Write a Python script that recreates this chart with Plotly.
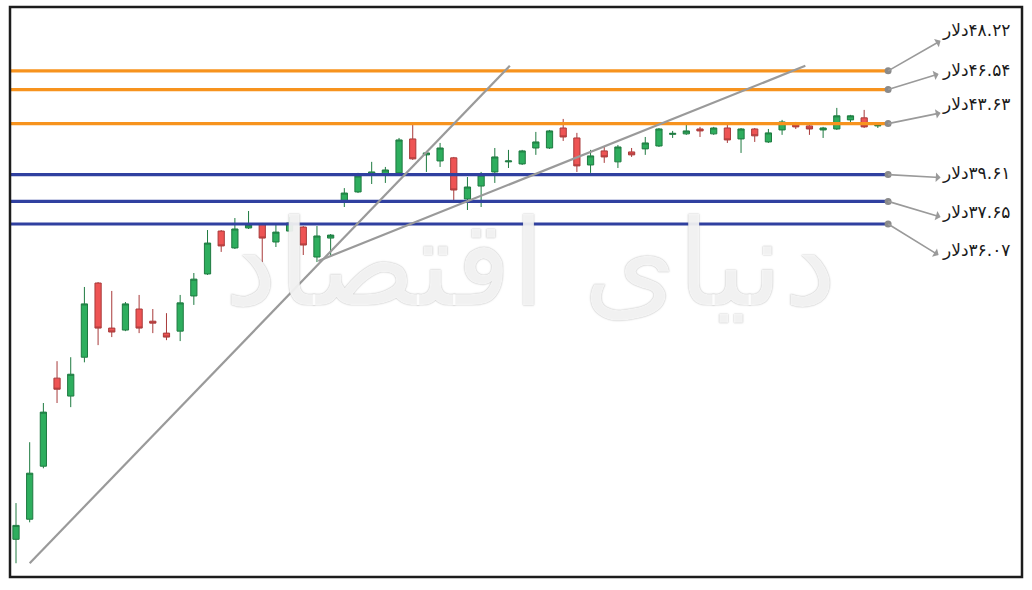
import plotly.graph_objects as go
import math

# ---------------- data ----------------
idx = list(range(64))
opens = [19.84, 20.61, 22.79, 26.93, 26.03, 28.02, 32.25, 29.61, 29.50, 30.70,
         30.00, 29.33, 29.44, 31.47, 32.81, 35.59, 34.47, 35.80, 36.07, 34.86,
         35.59, 35.86, 33.88, 35.12, 37.61, 38.33, 39.66, 39.58, 39.74, 42.38,
         41.12, 40.65, 40.89, 37.82, 38.76, 39.81, 40.58, 40.42, 41.66, 41.66,
         43.27, 42.46, 40.34, 41.43, 40.58, 41.35, 41.59, 41.82, 42.75, 42.79,
         43.19, 42.79, 43.27, 42.38, 43.19, 42.14, 43.11, 43.69, 43.44, 43.11,
         43.19, 43.94, 44.11, 43.44]
highs = [21.25, 23.85, 25.69, 27.81, 28.02, 32.01, 32.31, 31.77, 31.11, 31.53,
         30.70, 30.46, 31.53, 32.87, 35.66, 35.66, 36.48, 36.97, 36.14, 36.00,
         36.55, 35.93, 35.93, 35.39, 38.61, 39.74, 40.58, 40.19, 42.46, 43.52,
         41.35, 42.06, 40.96, 39.43, 39.81, 41.66, 41.51, 41.51, 42.95, 43.11,
         44.02, 42.87, 41.51, 41.74, 41.90, 41.66, 42.54, 43.27, 43.03, 43.69,
         43.36, 43.36, 43.52, 43.27, 43.27, 43.19, 43.94, 43.77, 43.52, 43.36,
         44.95, 44.36, 44.78, 43.69]
lows = [18.96, 20.49, 22.70, 25.69, 25.49, 27.75, 28.67, 29.11, 29.44, 29.33,
        29.33, 28.94, 28.89, 30.94, 32.75, 34.21, 34.40, 35.73, 33.56, 34.53,
        35.52, 34.01, 33.56, 34.01, 37.25, 38.25, 38.91, 38.99, 39.66, 40.73,
        39.81, 40.19, 37.75, 37.04, 37.25, 38.99, 40.11, 40.34, 41.12, 41.59,
        42.22, 39.81, 39.74, 40.50, 40.11, 40.96, 41.12, 41.74, 42.46, 42.71,
        42.54, 42.71, 42.06, 41.27, 42.14, 42.06, 42.71, 43.19, 42.71, 42.46,
        43.11, 43.69, 43.27, 43.27]
closes = [20.37, 22.49, 25.25, 26.37, 27.13, 31.00, 29.61, 29.39, 31.00, 29.61,
          29.89, 29.11, 31.06, 32.49, 34.79, 34.60, 35.73, 36.00, 35.12, 35.52,
          36.14, 34.66, 35.26, 35.32, 38.25, 39.51, 39.81, 39.96, 42.30, 40.81,
          41.27, 41.66, 38.47, 38.69, 39.58, 40.96, 40.65, 41.43, 42.14, 43.03,
          42.54, 40.27, 41.04, 40.96, 41.74, 41.12, 42.06, 43.19, 42.83, 43.03,
          43.03, 43.27, 42.30, 43.19, 42.63, 42.87, 43.77, 43.36, 43.19, 43.27,
          44.28, 44.28, 43.36, 43.48]

levels = [48.22, 46.54, 43.63, 39.61, 37.65, 36.07]
level_labels = ["۴۸.۲۲دلار", "۴۶.۵۴دلار", "۴۳.۶۳دلار",
                "۳۹.۶۱دلار", "۳۷.۶۵دلار", "۳۶.۰۷دلار"]

trend1_x = [1.0, 36.1]
trend1_y = [18.96, 48.68]
trend2_x = [22.1, 57.7]
trend2_y = [33.63, 48.68]

watermark = "دنیای اقتصاد"

# ---------------- styles ----------------
RLM = "\u200F"
level_colors = ["#F7931E", "#F7931E", "#F7931E", "#3040A0", "#3040A0", "#3040A0"]
x_left, x_dot, x_label = -0.5, 63.75, 70.2
label_yshift = [41, 20, 20, 2, -11, -26]
arrow_off = [(54, -31), (52, -16), (54, -11), (54, 3), (54, 16), (52, 32)]

fig = go.Figure()

fig.add_trace(go.Candlestick(
    x=idx, open=opens, high=highs, low=lows, close=closes,
    increasing=dict(fillcolor="#2EAE5E", line=dict(color="#1E7A40", width=1)),
    decreasing=dict(fillcolor="#EE5454", line=dict(color="#A83A3A", width=1)),
    whiskerwidth=0, showlegend=False, hoverinfo="skip",
))

for lv, col in zip(levels, level_colors):
    fig.add_trace(go.Scatter(
        x=[x_left, x_dot], y=[lv, lv], mode="lines",
        line=dict(color=col, width=3.2), showlegend=False, hoverinfo="skip",
    ))

for tx, ty in ((trend1_x, trend1_y), (trend2_x, trend2_y)):
    fig.add_trace(go.Scatter(
        x=tx, y=ty, mode="lines", line=dict(color="#9A9A9A", width=2.2),
        showlegend=False, hoverinfo="skip",
    ))

fig.add_trace(go.Scatter(
    x=[x_dot] * len(levels), y=levels, mode="markers",
    marker=dict(color="#8A8A8A", size=7), showlegend=False, hoverinfo="skip",
))

annotations = []
for lv, lab, ys, (ax, ay) in zip(levels, level_labels, label_yshift, arrow_off):
    annotations.append(dict(
        x=x_dot, y=math.log10(lv), xref="x", yref="y", text="",
        showarrow=True, ax=ax, ay=ay, arrowside="start", arrowhead=2,
        arrowsize=1.1, arrowwidth=1.6, arrowcolor="#9A9A9A", standoff=0, startstandoff=0,
    ))
    annotations.append(dict(
        x=x_label, y=math.log10(lv), xref="x", yref="y", text=RLM + lab,
        showarrow=False, yshift=ys, xanchor="center", yanchor="middle",
        font=dict(family="DejaVu Sans", size=17, color="#1A1A1A"),
    ))

annotations.append(dict(
    x=0.514, y=0.55, xref="paper", yref="paper", text=watermark,
    showarrow=False, xanchor="center", yanchor="middle",
    font=dict(family="DejaVu Sans", size=120, color="rgba(255,255,255,0.85)",
              shadow="0 0 1.5px rgba(110,110,110,0.75)"),
))

fig.update_layout(
    width=1032, height=590,
    margin=dict(l=10, r=10, t=7, b=13),
    paper_bgcolor="white", plot_bgcolor="white",
    boxgap=0.35,
    xaxis=dict(range=[-0.4386, 73.538], visible=False, rangeslider=dict(visible=False),
               fixedrange=True),
    yaxis=dict(type="log", range=[1.26651, 1.73580], visible=False, fixedrange=True),
    annotations=annotations,
    shapes=[dict(type="rect", xref="paper", yref="paper", x0=0, x1=1, y0=0, y1=1,
                 line=dict(color="#1C1C1C", width=2.5))],
)

fig.write_html("out.html", config={"displayModeBar": False},
               post_script="document.body.style.margin='0';document.body.style.overflow='hidden';")
